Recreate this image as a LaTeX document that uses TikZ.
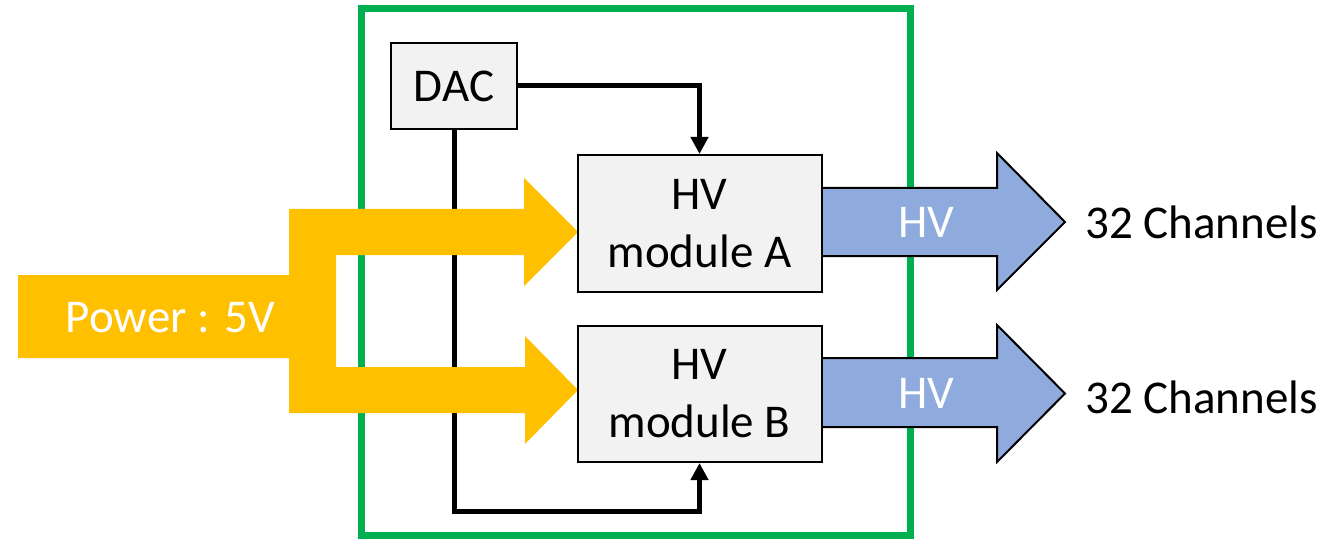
\documentclass[tikz,border=0pt]{standalone}
\usepackage{fontspec}
\setmainfont{Carlito}
\usetikzlibrary{arrows.meta}
\definecolor{pyellow}{HTML}{FFC000}
\definecolor{pgreen}{HTML}{00B050}
\definecolor{pblue}{HTML}{8FAADC}
\definecolor{pgray}{HTML}{F2F2F2}
\pgfdeclarelayer{back}
\pgfdeclarelayer{mid}
\pgfsetlayers{back,mid,main}
\begin{document}
\begin{tikzpicture}[x=1pt,y=-1pt,
  bigfont/.style={font=\fontsize{47}{58}\selectfont},
  box/.style={draw=black,line width=2pt,fill=pgray,inner sep=0pt,bigfont,align=center},
  ctrl/.style={line width=5pt,-{Triangle[length=17pt,width=17pt]}},
  hvarrow/.style={draw=black,line width=2pt,fill=pblue,line join=miter},
  lbl/.style={bigfont,inner sep=0pt,anchor=base}]
\useasboundingbox (0,0) rectangle (1333,540);

% boxes
\node[box,minimum width=126pt,minimum height=86pt] (dac) at (454,86) {DAC};
\node[box,minimum width=244pt,minimum height=137pt] (hvA) at (699.5,223.5) {HV\\module A};
\node[box,minimum width=244pt,minimum height=136pt] (hvB) at (699.5,394) {HV\\module B};

\begin{pgfonlayer}{back}
  \node[draw=pgreen,line width=7pt,inner sep=0pt,minimum width=549.5pt,minimum height=526.5pt] (frame) at (635.75,271.75) {};
  \draw[ctrl] (dac.east) -| (hvA.north);
  \draw[ctrl] (dac.south) -- ++(0,381) -| (hvB.south);
\end{pgfonlayer}

\begin{pgfonlayer}{mid}
  % power (yellow) split arrow
  \fill[pyellow] (18,275) -- (289,275) -- (289,209) -- (524,209) -- (524,178)
    -- (578,232) -- (524,286) -- (524,255) -- (336,255) -- (336,367)
    -- (525,367) -- (525,336) -- (578,390) -- (525,444) -- (525,413)
    -- (289,413) -- (289,358) -- (18,358) -- cycle;
  % HV output arrows
  \draw[hvarrow] (821,188) -- (997,188) -- (997,153) -- (1065,222) -- (997,290)
    -- (997,256) -- (821,256) -- cycle;
  \draw[hvarrow] (821,358) -- (997,358) -- (997,325) -- (1065,393.5) -- (997,462)
    -- (997,427) -- (821,427) -- cycle;
\end{pgfonlayer}

\node[lbl,text=white] (pw) at (170.3,332.7) {Power : 5V};
\node[lbl,text=white] (hvtA) at (926.5,237.3) {HV};
\node[lbl,text=white] (hvtB) at (926.5,408.3) {HV};
\node[lbl] (chA) at (1201.5,238) {32 Channels};
\node[lbl] (chB) at (1201.5,413.3) {32 Channels};
\end{tikzpicture}
\end{document}
